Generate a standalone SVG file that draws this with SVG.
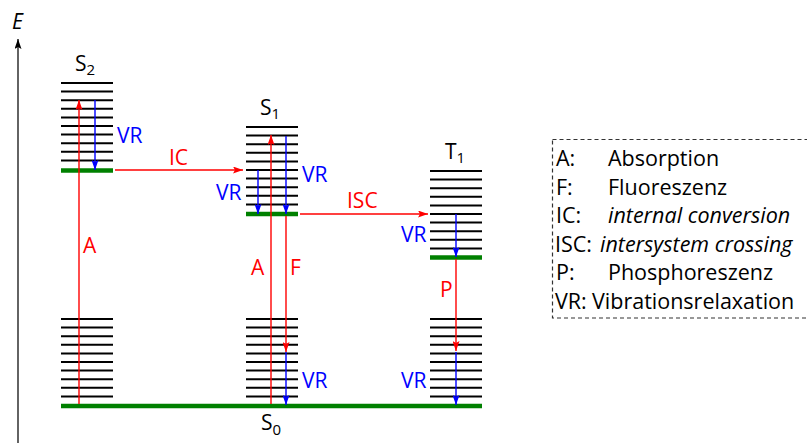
<svg xmlns="http://www.w3.org/2000/svg" width="807" height="443" viewBox="0 0 807 443">
<style>
text{font-family:"Open Sans","DejaVu Sans",sans-serif;font-size:21px}
.lv{stroke:#000;stroke-width:2}
.gr{stroke:#008000;stroke-width:4.5}
.r{stroke:#ff0000;stroke-width:1.4;fill:none;marker-end:url(#ar)}
.b{stroke:#0000ff;stroke-width:1.4;fill:none;marker-end:url(#ab)}
.rt{fill:#ff0000}
.bt{fill:#0000ff}
.sub{font-size:15px}
.it{font-style:italic}
.lg text{font-size:21.5px}
</style>
<defs>
<marker id="ar" viewBox="0 0 10 7" refX="10" refY="3.5" markerWidth="10" markerHeight="7" markerUnits="userSpaceOnUse" orient="auto"><path d="M0,0 L10,3.5 L0,7 L2,3.5 z" fill="#ff0000"/></marker>
<marker id="ab" viewBox="0 0 10 7" refX="10" refY="3.5" markerWidth="10" markerHeight="7" markerUnits="userSpaceOnUse" orient="auto"><path d="M0,0 L10,3.5 L0,7 L2,3.5 z" fill="#0000ff"/></marker>
<marker id="ak" viewBox="0 0 10 7" refX="10" refY="3.5" markerWidth="10" markerHeight="7" markerUnits="userSpaceOnUse" orient="auto"><path d="M0,0 L10,3.5 L0,7 L2,3.5 z" fill="#000"/></marker>
</defs>
<g id="axis">
<line x1="18" y1="443" x2="18" y2="39" stroke="#222" stroke-width="1.4" marker-end="url(#ak)"/>
<text x="12" y="29" class="it" font-size="20">E</text>
</g>
<g id="S2">
<path class="lv" d="M61,83H113M61,91.6H113M61,100.2H113M61,108.8H113M61,117.4H113M61,126H113M61,134.6H113M61,143.2H113M61,151.8H113M61,160.4H113"/>
<path class="gr" d="M61,170.5H113"/>
<text x="75" y="71">S<tspan class="sub" dy="4">2</tspan></text>
</g>
<g id="S1">
<path class="lv" d="M246,127H298M246,135.6H298M246,144.2H298M246,152.8H298M246,161.4H298M246,170H298M246,178.6H298M246,187.2H298M246,195.8H298M246,204.4H298"/>
<path class="gr" d="M246,214H298"/>
<text x="260" y="115">S<tspan class="sub" dy="4">1</tspan></text>
</g>
<g id="T1">
<path class="lv" d="M430,171H482M430,179.6H482M430,188.2H482M430,196.8H482M430,205.4H482M430,214H482M430,222.6H482M430,231.2H482M430,239.8H482M430,248.4H482"/>
<path class="gr" d="M430,257.5H482"/>
<text x="445" y="159">T<tspan class="sub" dy="4">1</tspan></text>
</g>
<g id="S0">
<path class="lv" d="M61,319H113M61,327.6H113M61,336.2H113M61,344.8H113M61,353.4H113M61,362H113M61,370.6H113M61,379.2H113M61,387.8H113M61,396.4H113"/>
<path class="lv" d="M246,319H298M246,327.6H298M246,336.2H298M246,344.8H298M246,353.4H298M246,362H298M246,370.6H298M246,379.2H298M246,387.8H298M246,396.4H298"/>
<path class="lv" d="M430,319H482M430,327.6H482M430,336.2H482M430,344.8H482M430,353.4H482M430,362H482M430,370.6H482M430,379.2H482M430,387.8H482M430,396.4H482"/>
<path class="gr" d="M61,406H482"/>
<text x="261" y="430">S<tspan class="sub" dy="5">0</tspan></text>
</g>
<g id="connectors">
<line class="r" x1="79" y1="404" x2="79" y2="100"/>
<line class="b" x1="95" y1="100" x2="95" y2="170"/>
<line class="r" x1="115" y1="170" x2="243" y2="170"/>
<line class="r" x1="271" y1="404" x2="271" y2="135"/>
<line class="b" x1="258" y1="170" x2="258" y2="214"/>
<line class="b" x1="286" y1="136" x2="286" y2="214"/>
<line class="r" x1="286" y1="216" x2="286" y2="352"/>
<line class="b" x1="286" y1="352" x2="286" y2="405"/>
<line class="r" x1="300" y1="214" x2="428" y2="214"/>
<line class="b" x1="456" y1="214" x2="456" y2="257"/>
<line class="r" x1="456" y1="259" x2="456" y2="351"/>
<line class="b" x1="456" y1="352" x2="456" y2="405"/>
<text class="bt" x="117" y="143">VR</text>
<text class="rt" x="169" y="165">IC</text>
<text class="bt" x="216" y="200">VR</text>
<text class="bt" x="302" y="182">VR</text>
<text class="rt" x="347" y="208">ISC</text>
<text class="bt" x="401" y="242">VR</text>
<text class="rt" x="83" y="253">A</text>
<text class="rt" x="251" y="275">A</text>
<text class="rt" x="290" y="275">F</text>
<text class="rt" x="440" y="297">P</text>
<text class="bt" x="302" y="388">VR</text>
<text class="bt" x="401" y="388">VR</text>
</g>
<g id="legend" class="lg">
<rect x="552.5" y="139.5" width="300" height="178.5" fill="none" stroke="#333" stroke-width="1.2" stroke-dasharray="4,3"/>
<text x="556" y="166">A:</text><text x="608" y="166">Absorption</text>
<text x="556" y="194.5">F:</text><text x="608" y="194.5">Fluoreszenz</text>
<text x="556" y="223">IC:</text><text x="608" y="223" class="it">internal conversion</text>
<text x="555" y="251.5">ISC:</text><text x="600" y="251.5" class="it">intersystem crossing</text>
<text x="556" y="280">P:</text><text x="608" y="280">Phosphoreszenz</text>
<text x="555" y="308.5">VR:</text><text x="592" y="308.5">Vibrationsrelaxation</text>
</g>
</svg>
